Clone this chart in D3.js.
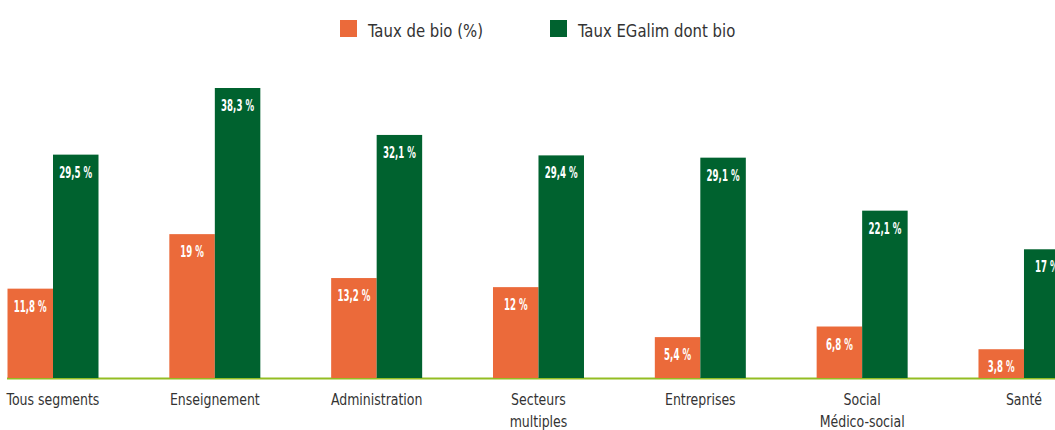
<!DOCTYPE html>
<html>
<head>
<meta charset="utf-8">
<script src="https://cdn.jsdelivr.net/npm/d3@7"></script>
<style>
  body { margin: 0; background: #fff; }
  #chart { width: 1055px; height: 430px; overflow: hidden; }
  .cat { font-family: "DejaVu Sans Condensed", "Liberation Sans Narrow", sans-serif; font-size: 16px; fill: #333; }
  .val { font-family: "DejaVu Sans Condensed", "Liberation Sans Narrow", sans-serif; font-size: 16px; font-weight: bold; fill: #fff; }
  .leg { font-family: "DejaVu Sans Condensed", "Liberation Sans Narrow", sans-serif; font-size: 18px; fill: #333; }
</style>
</head>
<body>
<div id="chart"></div>
<script>
const categories = ["Tous segments", "Enseignement", "Administration", "Secteurs\nmultiples", "Entreprises", "Social\nMédico-social", "Santé"]
const series = ["Taux de bio (%)", "Taux EGalim dont bio"]
const tauxBio = [11.8, 19, 13.2, 12, 5.4, 6.8, 3.8]
const tauxEgalim = [29.5, 38.3, 32.1, 29.4, 29.1, 22.1, 17]
const colors = ["#eb6a3a", "#00622f"]

const width = 1055, height = 430
const baseline = 378
const step = 161.83
const first_center = 53

const svg = d3.select("#chart").append("svg")
    .attr("width", width)
    .attr("height", height)

// one band per category, centered between the two bars
const x = d3.scaleBand()
    .domain(categories)
    .range([first_center - step / 2, first_center + step * (categories.length - 0.5)])
    .padding(0)

const xSub = d3.scaleBand()
    .domain(series)
    .range([-45.5, 45.5])
    .padding(0)

const y = d3.scaleLinear()
    .domain([0, 38.3])
    .range([baseline, 88])

const rows = categories.map((c, i) => ({cat: c, values: [tauxBio[i], tauxEgalim[i]]}))

// baseline
svg.append("line")
    .attr("x1", x(categories[0]) + x.bandwidth() / 2 - 46)
    .attr("x2", width)
    .attr("y1", baseline + 0.5)
    .attr("y2", baseline + 0.5)
    .attr("stroke", "#93bd23")
    .attr("stroke-width", 2)

const groups = svg.selectAll("g.group")
    .data(rows)
    .enter()
    .append("g")
    .attr("class", "group")
    .attr("transform", d => "translate(" + (x(d.cat) + x.bandwidth() / 2) + ",0)")

const fmt = v => String(v).replace(".", ",") + " %"

groups.selectAll("rect")
    .data(d => d.values.map((v, k) => ({key: series[k], v: v, k: k})))
    .enter()
    .append("rect")
    .attr("x", d => xSub(d.key))
    .attr("width", xSub.bandwidth())
    .attr("y", d => y(d.v))
    .attr("height", d => baseline - y(d.v))
    .attr("fill", d => colors[d.k])

// condensed look: squeeze the text horizontally
groups.selectAll("text.val")
    .data(d => d.values.map((v, k) => ({key: series[k], v: v, k: k})))
    .enter()
    .append("text")
    .attr("class", "val")
    .attr("text-anchor", "middle")
    .attr("transform", d => "translate(" + (xSub(d.key) + xSub.bandwidth() / 2) + "," + (y(d.v) + 23) + ") scale(0.6,1)")
    .text(d => fmt(d.v))

// category labels
groups.append("text")
    .attr("class", "cat")
    .attr("text-anchor", "middle")
    .attr("transform", "translate(0,405) scale(0.87,1)")
    .selectAll("tspan")
    .data(d => d.cat.split("\n"))
    .enter()
    .append("tspan")
    .attr("x", 0)
    .attr("dy", (d, i) => i === 0 ? 0 : 22)
    .text(d => d)

// legend
const legendPos = [340, 550]
const legend = svg.append("g")
series.forEach((s, i) => {
    legend.append("rect")
        .attr("x", legendPos[i])
        .attr("y", 20)
        .attr("width", 17)
        .attr("height", 17)
        .attr("fill", colors[i])
    legend.append("text")
        .attr("class", "leg")
        .attr("transform", "translate(" + (legendPos[i] + 28) + ",37) scale(0.92,1)")
        .text(s)
})
</script>
</body>
</html>
